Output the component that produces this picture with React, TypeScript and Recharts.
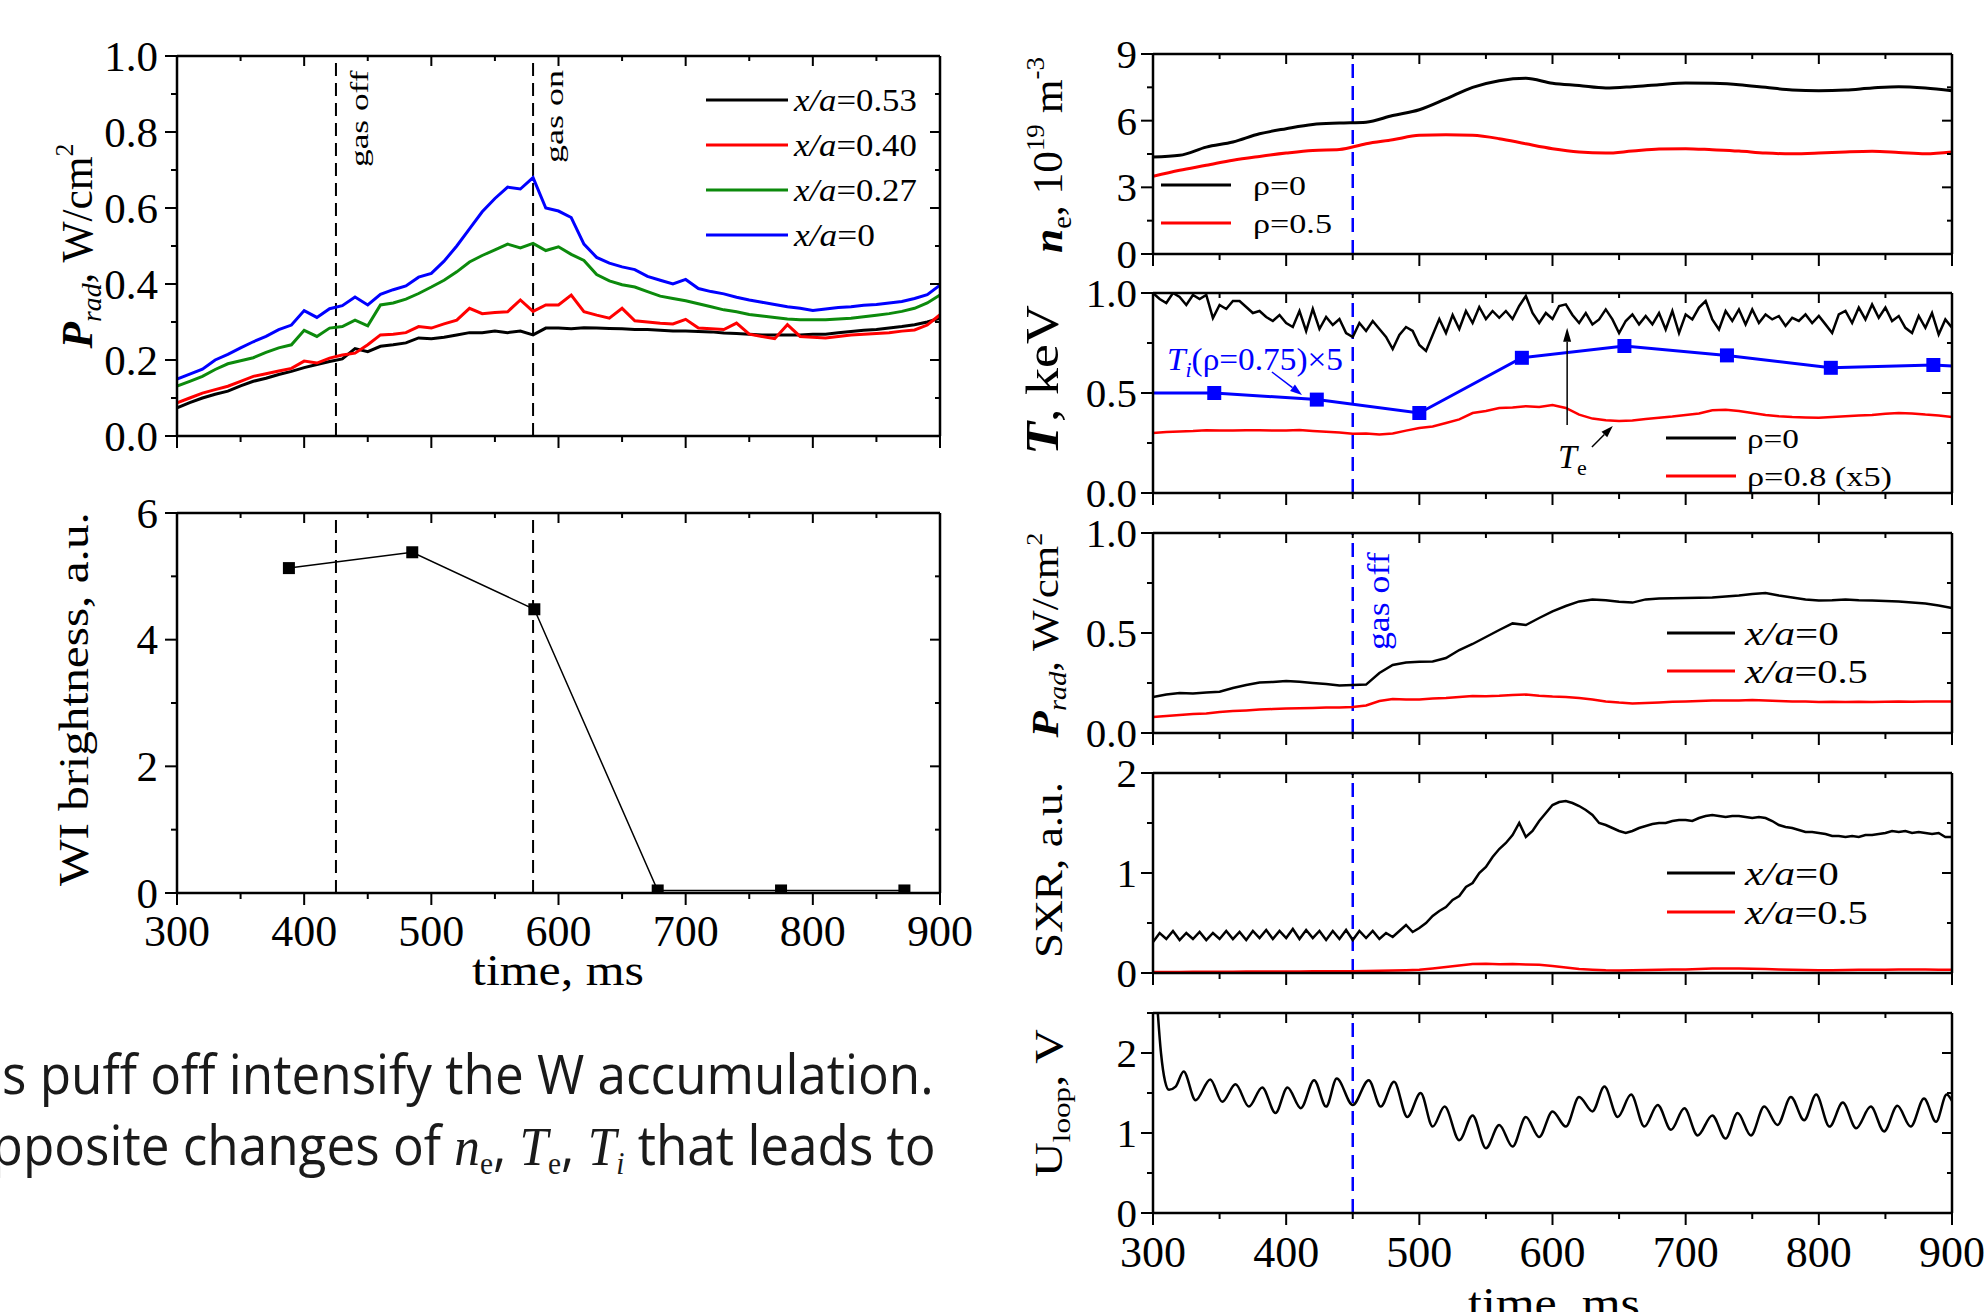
import React, { useLayoutEffect, useRef, useState } from 'react';
import { LineChart, Line, XAxis, YAxis, ReferenceLine } from 'recharts';

const W = 1984;
const H = 1312;
const SERIF = "'Liberation Serif', 'Times New Roman', serif";
const SANS = "'Open Sans', 'Noto Sans', sans-serif";
const BLACK = '#000000';
const RED = '#ff0000';
const GREEN = '#0c8a0c';
const BLUE = '#0000ff';

// ---------------- time grids & ticks ----------------
const T5 = [300,305,310,315,320,325,330,335,340,345,350,355,360,365,370,375,380,385,390,395,400,405,410,415,420,425,430,435,440,445,450,455,460,465,470,475,480,485,490,495,500,505,510,515,520,525,530,535,540,545,550,555,560,565,570,575,580,585,590,595,600,605,610,615,620,625,630,635,640,645,650,655,660,665,670,675,680,685,690,695,700,705,710,715,720,725,730,735,740,745,750,755,760,765,770,775,780,785,790,795,800,805,810,815,820,825,830,835,840,845,850,855,860,865,870,875,880,885,890,895,900];
const T10 = [300,310,320,330,340,350,360,370,380,390,400,410,420,430,440,450,460,470,480,490,500,510,520,530,540,550,560,570,580,590,600,610,620,630,640,650,660,670,680,690,700,710,720,730,740,750,760,770,780,790,800,810,820,830,840,850,860,870,880,890,900];
const T20 = [300,320,340,360,380,400,420,440,460,480,500,520,540,560,580,600,620,640,660,680,700,720,740,760,780,800,820,840,860,880,900];
const X_TICKS = [300,350,400,450,500,550,600,650,700,750,800,850,900];
const X_MAJOR = [300,400,500,600,700,800,900];

// ---------------- left top: P_rad ----------------
const PRAD_053 = [.074,.088,.100,.110,.118,.132,.144,.152,.162,.170, .180,.188,.196,.203,.230,.222,.236,.240,.245,.258, .256,.260,.266,.272,.272,.276,.272,.276,.266,.284, .284,.282,.285,.284,.283,.282,.280,.280,.278,.276, .276,.275,.274,.271,.270,.268,.266,.266,.266,.266, .268,.268,.272,.275,.278,.280,.284,.288,.293,.300, .310];
const PRAD_040 = [.087,.100,.113,.122,.131,.144,.157,.164,.171,.178, .197,.192,.205,.213,.218,.240,.266,.268,.272,.288, .284,.295,.305,.336,.322,.325,.327,.358,.328,.345, .345,.371,.327,.318,.310,.336,.303,.300,.297,.295, .307,.284,.282,.280,.297,.268,.262,.256,.293,.262, .260,.258,.262,.266,.268,.270,.272,.276,.279,.292, .319];
const PRAD_027 = [.131,.144,.157,.175,.190,.198,.206,.220,.232,.240, .278,.262,.284,.288,.305,.290,.345,.350,.360,.375, .392,.410,.432,.458,.475,.490,.505,.495,.507,.488, .498,.478,.462,.425,.408,.398,.392,.380,.368,.362, .356,.348,.340,.332,.327,.320,.316,.312,.308,.306, .306,.306,.308,.310,.314,.318,.322,.328,.336,.350, .371];
const PRAD_0 = [.150,.163,.176,.200,.215,.232,.248,.262,.280,.292, .330,.312,.335,.343,.366,.345,.373,.385,.395,.418, .428,.460,.500,.545,.590,.625,.655,.650,.680,.600, .592,.575,.505,.470,.455,.445,.438,.420,.410,.400, .412,.388,.380,.374,.365,.358,.352,.346,.340,.336, .330,.334,.338,.340,.344,.346,.350,.354,.362,.372, .397];

// ---------------- left bottom: WI brightness ----------------
const WI_T = [388, 485, 581, 678, 775, 872];
const WI_V = [5.13, 5.38, 4.48, 0.04, 0.04, 0.04];

// ---------------- right: n_e ----------------
const NE_0 = [4.36,4.44,4.81,5.04,5.41,5.64,5.83,5.89,5.93,6.23,6.49,6.98,7.50,7.80,7.91,7.68,7.58,7.47,7.53,7.62,7.70,7.68,7.62,7.50,7.38,7.35,7.38,7.47,7.53,7.47,7.35];
const NE_05 = [3.50,3.77,3.99,4.22,4.39,4.54,4.66,4.70,4.96,5.14,5.34,5.37,5.34,5.19,4.96,4.74,4.59,4.54,4.63,4.72,4.74,4.69,4.63,4.54,4.51,4.54,4.59,4.62,4.57,4.51,4.59];

// ---------------- right: T ----------------
const TE_0 = [1.00,.97, .95,1.00, .98,.94, .99,.97, .99,.875, .94,.92, .96,.96, .93,.90, .91,.88, .86,.89,
  .85,.83, .91,.81, .92,.82, .88,.84, .87,.80, .78,.85, .81,.86, .82,.78, .72,.79, .83,.81,
  .74,.71, .79,.87, .80,.89, .82,.91, .85,.93, .87,.91, .876,.91, .87,.935, .985,.90, .85,.90,
  .87,.935, .943,.89, .85,.90, .843,.868, .918,.868, .80,.86, .893,.843, .885,.843, .90,.818, .91,.80,
  .893,.868, .927,.96, .868,.818, .91,.86, .918,.843, .918,.85, .893,.868, .885,.835, .876,.86, .893,.85,
  .885,.843, .80,.893, .91,.85, .927,.868, .943,.876, .927,.86, .885,.826, .80,.885, .826,.90, .793,.868,
  .826];
const TE_08 = [.300,.305,.308,.310,.314,.312,.313,.314,.314,.312, .313,.315,.310,.306,.302,.296,.298,.292,.298,.312, .325,.333,.350,.368,.400,.410,.425,.428,.434,.430, .440,.425,.392,.372,.364,.360,.362,.370,.376,.382, .390,.398,.414,.416,.410,.400,.390,.384,.380,.378, .376,.380,.384,.388,.390,.396,.400,.398,.392,.388, .380];
const TI_T = [300, 346, 423, 500, 577, 654, 731, 809, 886, 900];
const TI_V = [0.50, 0.50, 0.467, 0.40, 0.676, 0.735, 0.688, 0.626, 0.64, 0.635];

// ---------------- right: P_rad ----------------
const PR_0 = [.180,.192,.200,.198,.203,.206,.225,.240,.253,.255, .260,.256,.250,.245,.238,.240,.242,.300,.340,.352, .356,.358,.375,.415,.445,.480,.515,.548,.540,.575, .608,.635,.658,.668,.664,.656,.652,.668,.673,.674, .675,.676,.678,.682,.687,.695,.700,.688,.678,.668, .663,.664,.667,.664,.663,.660,.658,.652,.647,.638, .625];
const PR_05 = [.080,.085,.090,.095,.098,.105,.110,.113,.117,.120, .123,.124,.125,.127,.128,.130,.138,.160,.170,.168, .168,.172,.175,.180,.185,.184,.186,.190,.192,.186, .182,.180,.175,.168,.158,.152,.148,.150,.153,.156, .158,.160,.162,.163,.163,.165,.162,.160,.158,.157, .155,.156,.155,.156,.155,.156,.157,.156,.158,.157, .158];

// ---------------- right: SXR ----------------
const SXR_0 = [.31,.40, .34,.42, .33,.40, .34,.41, .33,.40, .34,.42, .34,.41, .33,.42, .35,.43, .34,.42,
  .35,.44, .34,.43, .35,.42, .33,.42, .34,.43, .33,.42, .35,.42, .34,.40, .36,.42, .48,.41,
  .45,.50, .57,.62, .66,.73, .77,.86, .90,1.00, 1.06,1.16, 1.24,1.30, 1.38,1.50, 1.36,1.42, 1.52,1.60,
  1.68,1.71, 1.72,1.70, 1.67,1.63, 1.58,1.50, 1.48,1.45, 1.42,1.40, 1.42,1.45, 1.47,1.49, 1.50,1.50, 1.52,1.53,
  1.53,1.52, 1.55,1.57, 1.58,1.57, 1.56,1.57, 1.57,1.56, 1.55,1.56, 1.55,1.52, 1.48,1.46, 1.45,1.43, 1.41,1.41,
  1.40,1.39, 1.37,1.37, 1.36,1.37, 1.36,1.38, 1.38,1.39, 1.40,1.42, 1.41,1.42, 1.40,1.41, 1.40,1.39, 1.40,1.36,
  1.36];
const SXR_05 = [.010,.010,.010,.012,.012,.013,.013,.014,.015,.015, .016,.016,.017,.017,.018,.018,.020,.022,.025,.028, .032,.045,.060,.075,.090,.092,.088,.090,.085,.082, .070,.055,.040,.033,.028,.026,.028,.030,.032,.034, .036,.040,.044,.046,.045,.042,.040,.036,.032,.030, .028,.028,.030,.032,.032,.033,.034,.034,.034,.033, .032];

// ---------------- right: U_loop ----------------
const UL_T = [302,306,309,312,317,323,332,343,352,362, 372,382,392,401,411,421,430,438,450,462, 471,481,491,501,510,519,530,540,550,560, 570,580,590,600,610,620,630,639,649,659, 669,679,689,699,709,720,730,739,749,759, 769,779,789,798,808,818,828,839,849,859, 869,879,888,896,900];
const UL_V = [2.9,2.0,1.65,1.54,1.58,1.77,1.41,1.67,1.39,1.61, 1.33,1.57,1.25,1.57,1.31,1.66,1.33,1.68,1.35,1.66, 1.33,1.64,1.20,1.50,1.08,1.33,0.91,1.22,0.81,1.10, 0.83,1.20,0.95,1.27,1.08,1.45,1.27,1.58,1.20,1.48, 1.08,1.35,1.04,1.31,0.97,1.22,0.93,1.25,0.97,1.33, 1.10,1.45,1.16,1.48,1.08,1.38,1.06,1.33,1.02,1.34, 1.08,1.43,1.14,1.48,1.40];

const zip = (ts: number[], vs: number[]) => ts.map((t, i) => ({ t, v: vs[i] }));

// ---------------- helpers ----------------
const AX = { stroke: '#000', strokeWidth: 2.5 };

type Side = 'left' | 'right' | 'top' | 'bottom';
function tickFn(side: Side, major: number[], majLen: number, minLen: number, label?: { fs: number; gap: number; fmt: (v: number) => string }) {
  return (p: any) => {
    const x = Number(p.x), y = Number(p.y), v = Number(p.payload?.value);
    const isMaj = major.some((m) => Math.abs(m - v) < 1e-6);
    const len = isMaj ? majLen : minLen;
    const vert = side === 'top' || side === 'bottom';
    const ln = vert ? { x1: x, y1: y, x2: x, y2: y + len } : { x1: x - len, y1: y, x2: x, y2: y };
    let txt: React.ReactNode = null;
    if (label && isMaj) {
      if (side === 'bottom') {
        txt = <text x={x} y={y + label.gap} textAnchor="middle" fontSize={label.fs} fontFamily={SERIF} fill="#000">{label.fmt(v)}</text>;
      } else if (side === 'left') {
        txt = <text x={x - label.gap} y={y + label.fs * 0.34} textAnchor="end" fontSize={label.fs} fontFamily={SERIF} fill="#000">{label.fmt(v)}</text>;
      }
    }
    return <g><line {...ln} stroke="#000" strokeWidth={2} />{txt}</g>;
  };
}

function Panel(props: {
  px: number; py: number; pw: number; ph: number;
  yDomain: [number, number]; yTicks: number[]; yMajor: number[]; yFmt: (v: number) => string;
  yFs: number; yGap: number; xLabel: boolean; xFs: number; xGap: number;
  children: React.ReactNode;
}) {
  const { px, py, pw, ph, yDomain, yTicks, yMajor, yFmt, yFs, yGap, xLabel, xFs, xGap, children } = props;
  const L = 140, B = 90, mL = 10, mT = 30, mR = 45;
  return (
    <div style={{ position: 'absolute', left: px - L - mL, top: py - mT }}>
      <LineChart width={mL + L + pw + mR} height={mT + ph + B} margin={{ top: mT, right: mR, bottom: 0, left: mL }}>
        <XAxis xAxisId="b" dataKey="t" type="number" domain={[300, 900]} ticks={X_TICKS} interval={0} allowDataOverflow height={B}
          tickSize={0} tickMargin={0} tickLine={false} axisLine={AX}
          tick={tickFn('bottom', X_MAJOR, 12, 6, xLabel ? { fs: xFs, gap: xGap, fmt: (v) => String(v) } : undefined)} />
        <XAxis xAxisId="t" orientation="top" mirror dataKey="t" type="number" domain={[300, 900]} ticks={X_TICKS} interval={0} allowDataOverflow
          tickSize={0} tickMargin={0} tickLine={false} axisLine={AX} tick={tickFn('top', X_MAJOR, 10, 5)} />
        <YAxis yAxisId="l" type="number" domain={yDomain} ticks={yTicks} interval={0} allowDataOverflow width={L}
          tickSize={0} tickMargin={0} tickLine={false} axisLine={AX}
          tick={tickFn('left', yMajor, 12, 6, { fs: yFs, gap: yGap, fmt: yFmt })} />
        <YAxis yAxisId="r" orientation="right" mirror type="number" domain={yDomain} ticks={yTicks} interval={0} allowDataOverflow
          tickSize={0} tickMargin={0} tickLine={false} axisLine={AX} tick={tickFn('right', yMajor, 10, 5)} />
        {children}
      </LineChart>
    </div>
  );
}

function Fit(props: { x: number; y: number; rot?: number; len?: number; anchor?: 'start' | 'middle' | 'end'; fs: number; fill?: string; family?: string; weight?: string | number; children: React.ReactNode }) {
  const { x, y, rot = 0, len, anchor = 'start', fs, fill = '#000', family = SERIF, weight = 'normal', children } = props;
  const ref = useRef<SVGTextElement>(null);
  const [s, setS] = useState(1);
  useLayoutEffect(() => {
    if (len && ref.current) {
      const w = ref.current.getBBox().width;
      if (w > 0) setS(len / w);
    }
  }, [len]);
  return (
    <g transform={`translate(${x},${y}) rotate(${rot}) scale(${s},1)`}>
      <text ref={ref} x={0} y={0} textAnchor={anchor} fontSize={fs} fill={fill} fontFamily={family} fontWeight={weight}>{children}</text>
    </g>
  );
}

const arrowShape = (color: string, w: number, head: number, hw: number) => (p: any) => {
  const x1 = Number(p.x1), y1 = Number(p.y1), x2 = Number(p.x2), y2 = Number(p.y2);
  const dx = x2 - x1, dy = y2 - y1;
  const L = Math.hypot(dx, dy) || 1;
  const ux = dx / L, uy = dy / L;
  const bx = x2 - ux * head, by = y2 - uy * head;
  return (
    <g>
      <line x1={x1} y1={y1} x2={bx} y2={by} stroke={color} strokeWidth={w} />
      <polygon points={`${x2},${y2} ${bx - uy * hw},${by + ux * hw} ${bx + uy * hw},${by - ux * hw}`} fill={color} />
    </g>
  );
};

const squareDot = (color: string, size: number, hideEnds: boolean, n: number) => (p: any) => {
  const { cx, cy, index } = p;
  if (cx == null || cy == null || (hideEnds && (index === 0 || index === n - 1))) return <g key={`d${index}`} />;
  return <rect key={`d${index}`} x={cx - size / 2} y={cy - size / 2} width={size} height={size} fill={color} />;
};

function Legend({ x1, x2, tx, rows, fs, sw }: { x1: number; x2: number; tx: number; fs: number; sw: number; rows: { y: number; color: string; len: number; content: React.ReactNode }[] }) {
  return (
    <g>
      {rows.map((r, i) => (
        <g key={i}>
          <line x1={x1} y1={r.y} x2={x2} y2={r.y} stroke={r.color} strokeWidth={sw} />
          <Fit x={tx} y={r.y + fs * 0.34} fs={fs} len={r.len}>{r.content}</Fit>
        </g>
      ))}
    </g>
  );
}

const xa = (v: string) => (<><tspan fontStyle="italic">x/a</tspan>{'=' + v}</>);

function Paragraph() {
  const r1 = useRef<SVGTextElement>(null);
  const r2 = useRef<SVGTextElement>(null);
  const [st, setSt] = useState<{ s: number; w2: number } | null>(null);
  useLayoutEffect(() => {
    if (r1.current && r2.current) {
      const w1 = r1.current.getBBox().width;
      const w2 = r2.current.getBBox().width;
      if (w1 > 0) setSt({ s: 932 / w1, w2 });
    }
  }, []);
  const s = st ? st.s : 1;
  const w2 = st ? st.w2 : 0;
  const fs = 54;
  const sub = 31;
  return (
    <g>
      <g transform={`translate(2,1094) scale(${s},1)`}>
        <text ref={r1} fontSize={fs} fontFamily={SANS} fill="#1a1a1a">s puff off intensify the W accumulation.</text>
      </g>
      <g transform={`translate(${936 - w2 * s},1165) scale(${s},1)`}>
        <text ref={r2} fontSize={fs} fontFamily={SANS} fill="#1a1a1a">
          opposite changes of{' '}
          <tspan fontFamily={SERIF} fontStyle="italic">n</tspan>
          <tspan fontFamily={SERIF} fontSize={sub} dy={9}>e</tspan>
          <tspan dy={-9}>, </tspan>
          <tspan fontFamily={SERIF} fontStyle="italic">T</tspan>
          <tspan fontFamily={SERIF} fontSize={sub} dy={9}>e</tspan>
          <tspan dy={-9}>, </tspan>
          <tspan fontFamily={SERIF} fontStyle="italic">T</tspan>
          <tspan fontFamily={SERIF} fontStyle="italic" fontSize={sub} dy={9}>i</tspan>
          <tspan dy={-9}> that leads to</tspan>
        </text>
      </g>
    </g>
  );
}

function Overlay() {
  return (
    <svg width={W} height={H} style={{ position: 'absolute', left: 0, top: 0, pointerEvents: 'none' }}>
      {/* ---- left titles ---- */}
      <Fit x={92} y={246} rot={-90} anchor="middle" fs={44} len={206}>
        <tspan fontStyle="italic" fontWeight="bold">P</tspan>
        <tspan fontStyle="italic" fontSize={28} dy={9}>rad</tspan>
        <tspan dy={-9}>, W/cm</tspan>
        <tspan fontSize={26} dy={-19}>2</tspan>
      </Fit>
      <Fit x={88} y={699} rot={-90} anchor="middle" fs={42} len={374}>WI brightness, a.u.</Fit>
      <Fit x={558} y={985} anchor="middle" fs={44} len={172}>time, ms</Fit>
      <Fit x={368} y={167} rot={-90} fs={26} len={97}>gas off</Fit>
      <Fit x={563} y={163} rot={-90} fs={26} len={93}>gas on</Fit>
      <Legend x1={706} x2={788} tx={794} fs={31} sw={3} rows={[
        { y: 100, color: BLACK, len: 124, content: xa('0.53') },
        { y: 145, color: RED, len: 124, content: xa('0.40') },
        { y: 190, color: GREEN, len: 124, content: xa('0.27') },
        { y: 235, color: BLUE, len: 82, content: xa('0') },
      ]} />

      {/* ---- right titles ---- */}
      <Fit x={1062} y={155} rot={-90} anchor="middle" fs={42} len={196}>
        <tspan fontStyle="italic" fontWeight="bold">n</tspan>
        <tspan fontSize={27} dy={9}>e</tspan>
        <tspan dy={-9}>, 10</tspan>
        <tspan fontSize={26} dy={-18}>19</tspan>
        <tspan dy={18}> m</tspan>
        <tspan fontSize={26} dy={-18}>-3</tspan>
      </Fit>
      <Fit x={1058} y={380} rot={-90} anchor="middle" fs={46} len={150}>
        <tspan fontStyle="italic" fontWeight="bold">T</tspan>, keV
      </Fit>
      <Fit x={1058} y={635} rot={-90} anchor="middle" fs={38} len={206}>
        <tspan fontStyle="italic" fontWeight="bold">P</tspan>
        <tspan fontStyle="italic" fontSize={25} dy={8}>rad</tspan>
        <tspan dy={-8}>, W/cm</tspan>
        <tspan fontSize={23} dy={-16}>2</tspan>
      </Fit>
      <Fit x={1062} y={870} rot={-90} anchor="middle" fs={40} len={176}>SXR, a.u.</Fit>
      <Fit x={1062} y={1103} rot={-90} anchor="middle" fs={40} len={148}>
        U<tspan fontSize={26} dy={8}>loop</tspan><tspan dy={-8}>, V</tspan>
      </Fit>
      <Fit x={1554} y={1318} anchor="middle" fs={44} len={172}>time, ms</Fit>

      {/* ---- right legends & annotations ---- */}
      <Legend x1={1161} x2={1231} tx={1253} fs={28} sw={3} rows={[
        { y: 185, color: BLACK, len: 53, content: 'ρ=0' },
        { y: 223, color: RED, len: 79, content: 'ρ=0.5' },
      ]} />
      <Fit x={1167} y={370} fs={32} len={176} fill={BLUE}>
        <tspan fontStyle="italic">T</tspan>
        <tspan fontStyle="italic" fontSize={21} dy={7}>i</tspan>
        <tspan dy={-7}>(ρ=0.75)×5</tspan>
      </Fit>
      <Fit x={1558} y={468} fs={34}>
        <tspan fontStyle="italic">T</tspan>
        <tspan fontSize={22} dy={7}>e</tspan>
      </Fit>
      <Legend x1={1666} x2={1736} tx={1747} fs={28} sw={3} rows={[
        { y: 438, color: BLACK, len: 52, content: 'ρ=0' },
        { y: 476, color: RED, len: 145, content: 'ρ=0.8 (x5)' },
      ]} />
      <Fit x={1389} y={650} rot={-90} fs={32} len={98} fill={BLUE}>gas off</Fit>
      <Legend x1={1667} x2={1735} tx={1745} fs={34} sw={3} rows={[
        { y: 633, color: BLACK, len: 95, content: xa('0') },
        { y: 671, color: RED, len: 124, content: xa('0.5') },
      ]} />
      <Legend x1={1667} x2={1735} tx={1745} fs={34} sw={3} rows={[
        { y: 873, color: BLACK, len: 95, content: xa('0') },
        { y: 912, color: RED, len: 124, content: xa('0.5') },
      ]} />

      <Paragraph />
    </svg>
  );
}

const f1 = (v: number) => v.toFixed(1);
const f0 = (v: number) => String(v);

export default function App() {
  const LEFT = { yFs: 43, yGap: 19, xFs: 44, xGap: 53 };
  const RIGHT = { yFs: 41, yGap: 16, xFs: 44, xGap: 54 };
  return (
    <div style={{ position: 'absolute', left: 0, top: 0, width: W, height: H, overflow: 'hidden', background: '#fff' }}>
      {/* left top: P_rad */}
      <Panel px={177} py={56} pw={763} ph={380} yDomain={[0, 1]} yTicks={[0, 0.1, 0.2, 0.3, 0.4, 0.5, 0.6, 0.7, 0.8, 0.9, 1]}
        yMajor={[0, 0.2, 0.4, 0.6, 0.8, 1]} yFmt={f1} xLabel={false} {...LEFT}>
        <ReferenceLine xAxisId="b" yAxisId="l" x={425} stroke="#000" strokeWidth={2} strokeDasharray="13 7" />
        <ReferenceLine xAxisId="b" yAxisId="l" x={580} stroke="#000" strokeWidth={2} strokeDasharray="13 7" />
        <Line xAxisId="b" yAxisId="l" data={zip(T10, PRAD_053)} dataKey="v" stroke={BLACK} strokeWidth={3} dot={false} isAnimationActive={false} />
        <Line xAxisId="b" yAxisId="l" data={zip(T10, PRAD_040)} dataKey="v" stroke={RED} strokeWidth={3} dot={false} isAnimationActive={false} />
        <Line xAxisId="b" yAxisId="l" data={zip(T10, PRAD_027)} dataKey="v" stroke={GREEN} strokeWidth={3} dot={false} isAnimationActive={false} />
        <Line xAxisId="b" yAxisId="l" data={zip(T10, PRAD_0)} dataKey="v" stroke={BLUE} strokeWidth={3} dot={false} isAnimationActive={false} />
      </Panel>

      {/* left bottom: WI */}
      <Panel px={177} py={513} pw={763} ph={380} yDomain={[0, 6]} yTicks={[0, 1, 2, 3, 4, 5, 6]}
        yMajor={[0, 2, 4, 6]} yFmt={f0} xLabel={true} {...LEFT}>
        <ReferenceLine xAxisId="b" yAxisId="l" x={425} stroke="#000" strokeWidth={2} strokeDasharray="13 7" />
        <ReferenceLine xAxisId="b" yAxisId="l" x={580} stroke="#000" strokeWidth={2} strokeDasharray="13 7" />
        <Line xAxisId="b" yAxisId="l" data={zip(WI_T, WI_V)} dataKey="v" stroke={BLACK} strokeWidth={1.5}
          dot={squareDot(BLACK, 12, false, WI_T.length)} isAnimationActive={false} />
      </Panel>

      {/* right: n_e */}
      <Panel px={1153} py={54} pw={799} ph={200} yDomain={[0, 9]} yTicks={[0, 1.5, 3, 4.5, 6, 7.5, 9]}
        yMajor={[0, 3, 6, 9]} yFmt={f0} xLabel={false} {...RIGHT}>
        <ReferenceLine xAxisId="b" yAxisId="l" x={450} stroke={BLUE} strokeWidth={2.5} strokeDasharray="14 8" />
        <Line xAxisId="b" yAxisId="l" type="monotone" data={zip(T20, NE_0)} dataKey="v" stroke={BLACK} strokeWidth={3} dot={false} isAnimationActive={false} />
        <Line xAxisId="b" yAxisId="l" type="monotone" data={zip(T20, NE_05)} dataKey="v" stroke={RED} strokeWidth={3} dot={false} isAnimationActive={false} />
      </Panel>

      {/* right: T */}
      <Panel px={1153} py={293} pw={799} ph={200} yDomain={[0, 1]} yTicks={[0, 0.25, 0.5, 0.75, 1]}
        yMajor={[0, 0.5, 1]} yFmt={f1} xLabel={false} {...RIGHT}>
        <ReferenceLine xAxisId="b" yAxisId="l" x={450} stroke={BLUE} strokeWidth={2.5} strokeDasharray="14 8" />
        <Line xAxisId="b" yAxisId="l" data={zip(T5, TE_0)} dataKey="v" stroke={BLACK} strokeWidth={2.5} dot={false} isAnimationActive={false} />
        <Line xAxisId="b" yAxisId="l" data={zip(T10, TE_08)} dataKey="v" stroke={RED} strokeWidth={2.5} dot={false} isAnimationActive={false} />
        <Line xAxisId="b" yAxisId="l" data={zip(TI_T, TI_V)} dataKey="v" stroke={BLUE} strokeWidth={3}
          dot={squareDot(BLUE, 14, true, TI_T.length)} isAnimationActive={false} />
        <ReferenceLine xAxisId="b" yAxisId="l" segment={[{ x: 611, y: 0.34 }, { x: 611, y: 0.826 }]} shape={arrowShape(BLACK, 1.5, 14, 4)} />
        <ReferenceLine xAxisId="b" yAxisId="l" segment={[{ x: 629.6, y: 0.23 }, { x: 645.3, y: 0.335 }]} shape={arrowShape(BLACK, 1.5, 12, 4)} />
        <ReferenceLine xAxisId="b" yAxisId="l" segment={[{ x: 389.3, y: 0.605 }, { x: 411.9, y: 0.49 }]} shape={arrowShape(BLUE, 1.5, 12, 4)} />
      </Panel>

      {/* right: P_rad */}
      <Panel px={1153} py={533} pw={799} ph={200} yDomain={[0, 1]} yTicks={[0, 0.25, 0.5, 0.75, 1]}
        yMajor={[0, 0.5, 1]} yFmt={f1} xLabel={false} {...RIGHT}>
        <ReferenceLine xAxisId="b" yAxisId="l" x={450} stroke={BLUE} strokeWidth={2.5} strokeDasharray="14 8" />
        <Line xAxisId="b" yAxisId="l" data={zip(T10, PR_0)} dataKey="v" stroke={BLACK} strokeWidth={2.5} dot={false} isAnimationActive={false} />
        <Line xAxisId="b" yAxisId="l" data={zip(T10, PR_05)} dataKey="v" stroke={RED} strokeWidth={2.5} dot={false} isAnimationActive={false} />
      </Panel>

      {/* right: SXR */}
      <Panel px={1153} py={773} pw={799} ph={200} yDomain={[0, 2]} yTicks={[0, 0.5, 1, 1.5, 2]}
        yMajor={[0, 1, 2]} yFmt={f0} xLabel={false} {...RIGHT}>
        <ReferenceLine xAxisId="b" yAxisId="l" x={450} stroke={BLUE} strokeWidth={2.5} strokeDasharray="14 8" />
        <Line xAxisId="b" yAxisId="l" data={zip(T5, SXR_0)} dataKey="v" stroke={BLACK} strokeWidth={2.5} dot={false} isAnimationActive={false} />
        <Line xAxisId="b" yAxisId="l" data={zip(T10, SXR_05)} dataKey="v" stroke={RED} strokeWidth={2.5} dot={false} isAnimationActive={false} />
      </Panel>

      {/* right: U_loop */}
      <Panel px={1153} py={1013} pw={799} ph={200} yDomain={[0, 2.5]} yTicks={[0, 0.5, 1, 1.5, 2, 2.5]}
        yMajor={[0, 1, 2]} yFmt={f0} xLabel={true} {...RIGHT}>
        <ReferenceLine xAxisId="b" yAxisId="l" x={450} stroke={BLUE} strokeWidth={2.5} strokeDasharray="14 8" />
        <Line xAxisId="b" yAxisId="l" type="monotone" data={zip(UL_T, UL_V)} dataKey="v" stroke={BLACK} strokeWidth={2.5} dot={false} isAnimationActive={false} />
      </Panel>

      <Overlay />
    </div>
  );
}
